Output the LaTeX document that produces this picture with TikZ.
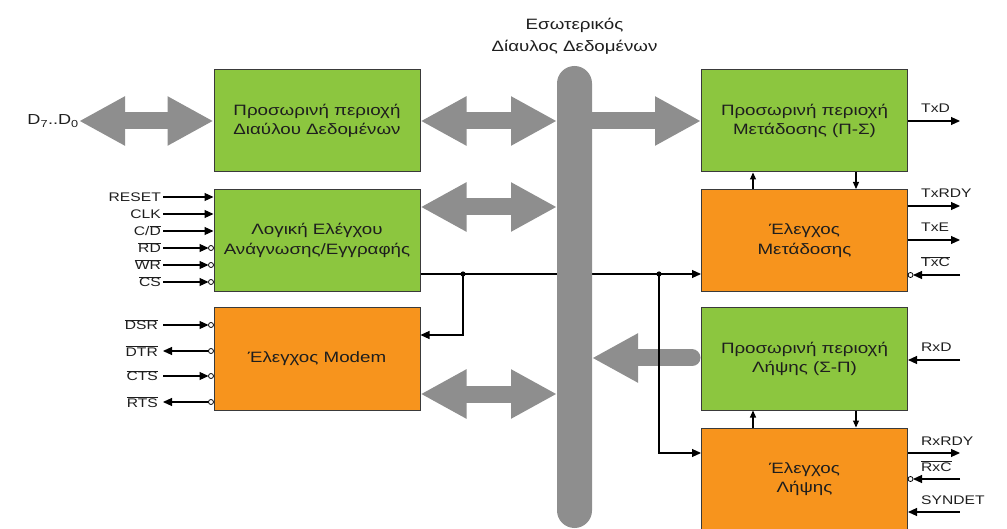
\documentclass[tikz,border=0pt]{standalone}
\usepackage{fontspec}
\setmainfont{Liberation Sans}[FakeStretch=1.25]
\usetikzlibrary{arrows.meta, calc}
\usepackage{xcolor}
\definecolor{usgreen}{HTML}{8CC63F}
\definecolor{usorange}{HTML}{F7941D}
\definecolor{usgray}{HTML}{8E8E8E}
\definecolor{usedge}{HTML}{3A3A3A}
\definecolor{ustext}{HTML}{1E1E1E}

\newcommand{\ovl}[1]{$\overline{\hbox{#1}}$}

\tikzset{
  blk/.style={draw=usedge, line width=1pt, minimum width=206pt, minimum height=102pt,
              align=center, text=ustext, font=\fontsize{15}{19.5}\selectfont, inner sep=0pt},
  gblk/.style={blk, fill=usgreen},
  oblk/.style={blk, fill=usorange},
  fat/.style={usgray, line width=17pt},
  fatboth/.style={fat, {Triangle[length=46pt,width=46pt]}-{Triangle[length=46pt,width=46pt]}},
  fatone/.style={fat, -{Triangle[length=46pt,width=46pt]}},
  sig/.style={line width=1.1pt, -{Triangle[length=9pt,width=8pt]}},
  link/.style={line width=1.1pt, -{Triangle[length=7pt,width=6pt]}},
  bub/.style={line width=0.8pt, fill=white},
  sigl/.style={inner sep=0pt, text=ustext, font=\fontsize{12.5}{14}\selectfont},
}

\begin{document}
\begin{tikzpicture}[x=1pt, y=-1pt]
  \useasboundingbox (0,0) rectangle (1007,529);

  % blocks, left column
  \node[gblk] (buf) at (317,121) {Προσωρινή περιοχή\\Διαύλου Δεδομένων};
  \node[gblk] (rwl) at (317,240.5) {Λογική Ελέγχου\\Ανάγνωσης/Εγγραφής};
  \node[oblk] (modem) at (317,359) {Έλεγχος Modem};
  % blocks, right column
  \node[gblk] (txb) at (804.5,121) {Προσωρινή περιοχή\\Μετάδοσης (Π-Σ)};
  \node[oblk] (txc) at (804.5,240.5) {Έλεγχος\\Μετάδοσης};
  \node[gblk] (rxb) at (804.5,359) {Προσωρινή περιοχή\\Λήψης (Σ-Π)};
  \node[oblk] (rxc) at (804.5,479) {Έλεγχος\\Λήψης};

  \node[text=ustext, align=center, font=\fontsize{15}{22}\selectfont] (bustitle) at (574.5,36)
    {Εσωτερικός\\Δίαυλος Δεδομένων};
  \node[anchor=east, inner sep=0pt, text=ustext, font=\fontsize{14.5}{16}\selectfont] (dbus) at (79,121)
    {D\textsubscript{7}..D\textsubscript{0}};

  % wide grey transfers
  \coordinate (busl) at (557,0);
  \coordinate (busr) at (592,0);
  \draw[fatboth] (dbus.east) -- (buf.west);
  \draw[fatboth] (buf.east) -- (buf.east -| busl);
  \draw[fatboth] ([yshift=33.5pt]rwl.east) -- ([yshift=33.5pt]rwl.east -| busl);
  \draw[fatboth] ([yshift=-35pt]modem.east) -- ([yshift=-35pt]modem.east -| busl);
  \draw[fatone] (txb.west -| busr) -- (txb.west);
  \draw[fatone, line cap=round] ([xshift=-9pt,yshift=1pt]rxb.west) -- ([yshift=1pt]rxb.west -| busr);

  % control line from the read/write logic
  \coordinate (j1) at (463,274);
  \coordinate (j2) at (659,274);
  \draw[sig] (j1 -| rwl.east) -- (j2 -| txc.west);
  \draw[sig] (j1) |- ([yshift=24pt]modem.east);
  \draw[sig] (j2) |- ([yshift=26pt]rxc.west);
  \fill (j1) circle (2.6pt);
  \fill (j2) circle (2.6pt);

  % internal bus
  \node[fill=usgray, minimum width=35pt, minimum height=462pt, rounded corners=17.5pt] (bus) at (574.5,297) {};

  % buffer <-> control
  \draw[link] ([xshift=-51.5pt]txc.north) -- ([xshift=-51.5pt]txb.south);
  \draw[link] ([xshift=51.5pt]txb.south) -- ([xshift=51.5pt]txc.north);
  \draw[link] ([xshift=-51.5pt]rxc.north) -- ([xshift=-51.5pt]rxb.south);
  \draw[link] ([xshift=51.5pt]rxb.south) -- ([xshift=51.5pt]rxc.north);

  % CPU side inputs
  \foreach \y/\txt/\nb [count=\i] in {197/RESET/0, 214/CLK/0, 231/{C/\ovl{D}}/0,
                                      248/\ovl{RD}/1, 265/\ovl{WR}/1, 282/\ovl{CS}/1}{
    \coordinate (p\i) at (163,\y);
    \node[sigl, anchor=base east] (pl\i) at (161,\y+5) {\txt};
    \ifnum\nb=1
      \draw[sig, shorten >=5pt] (p\i) -- (p\i -| rwl.west);
      \draw[bub] ([xshift=-2.5pt]p\i -| rwl.west) circle (2.5pt);
    \else
      \draw[sig] (p\i) -- (p\i -| rwl.west);
    \fi
  }

  % modem lines
  \foreach \y/\txt/\dir [count=\i] in {325/DSR/0, 351/DTR/1, 376/CTS/0, 402/RTS/1}{
    \coordinate (m\i) at (163,\y);
    \node[sigl, anchor=base east] (ml\i) at (158,\y+5) {\ovl{\txt}};
    \ifnum\dir=1
      \draw[sig] ([xshift=-5pt]m\i -| modem.west) -- (m\i);
    \else
      \draw[sig, shorten >=5pt] (m\i) -- (m\i -| modem.west);
    \fi
    \draw[bub] ([xshift=-2.5pt]m\i -| modem.west) circle (2.5pt);
  }

  % serial side
  \foreach \y/\txt/\kind/\blk in {121/TxD/0/txb, 206/TxRDY/0/txc, 240/TxE/0/txc,
                                  275/\ovl{TxC}/2/txc, 360/RxD/1/rxb, 453/RxRDY/0/rxc,
                                  479/\ovl{RxC}/2/rxc, 512/SYNDET/3/rxc}{
    \coordinate (r\y) at (960,\y);
    \ifcase\kind
      \draw[sig] (r\y -| \blk.east) -- (r\y);
    \or
      \draw[sig] (r\y) -- (r\y -| \blk.east);
    \or
      \draw[sig, shorten >=5pt] (r\y) -- (r\y -| \blk.east);
      \draw[bub] ([xshift=2.5pt]r\y -| \blk.east) circle (2.5pt);
    \or
      \draw[sig, {Triangle[length=9pt,width=8pt]}-] (r\y -| \blk.east) -- (r\y);
    \fi
    \node[sigl, anchor=base west] (rl\y) at (921,\y-8) {\txt};
  }
\end{tikzpicture}
\end{document}
